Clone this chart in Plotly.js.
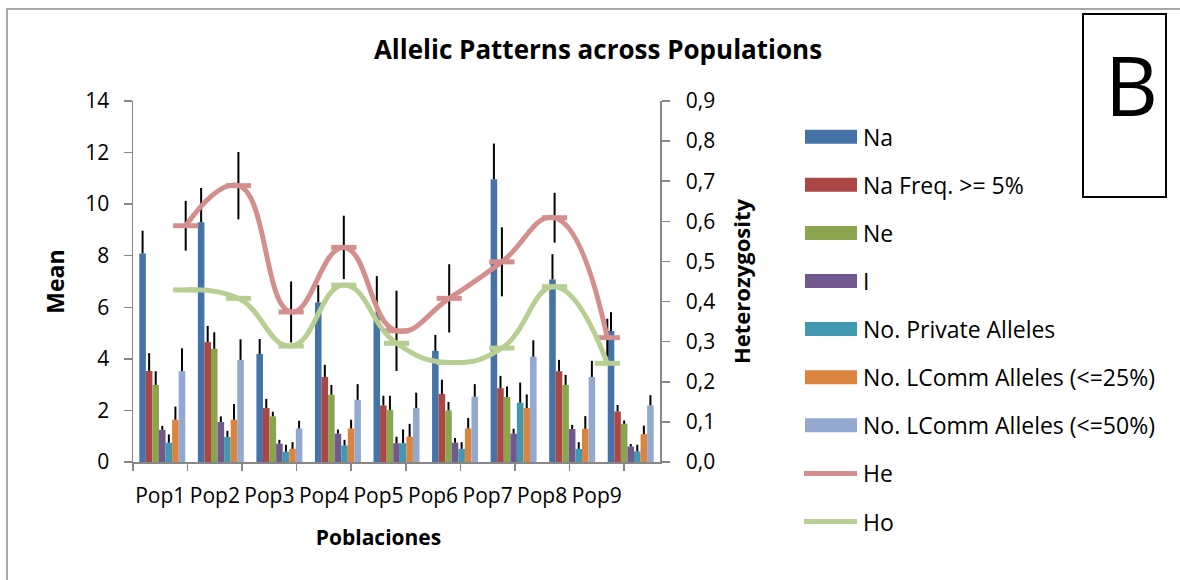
<!DOCTYPE html>
<html><head><meta charset="utf-8">
<script src="https://cdn.plot.ly/plotly-3.0.1.min.js"></script>
<style>html,body{margin:0;padding:0;background:#fff;}#chart{width:1180px;height:580px;}</style>
</head><body><div id="chart"></div>
<script>
const pops = ['Pop1','Pop2','Pop3','Pop4','Pop5','Pop6','Pop7','Pop8','Pop9'];
const na        = [8.09, 9.30, 4.19, 6.19, 5.77, 4.31, 10.97, 7.08, 5.08];
const naErr     = [0.88, 1.33, 0.58, 0.67, 1.44, 0.62, 1.38, 0.98, 0.73];
const naFreq    = [3.53, 4.65, 2.09, 3.30, 2.19, 2.64, 2.86, 3.52, 1.96];
const naFreqErr = [0.69, 0.63, 0.36, 0.47, 0.38, 0.55, 0.48, 0.44, 0.25];
const ne        = [2.99, 4.39, 1.77, 2.61, 2.02, 2.00, 2.52, 2.99, 1.48];
const neErr     = [0.53, 0.64, 0.18, 0.38, 0.55, 0.33, 0.41, 0.39, 0.13];
const iIdx      = [1.25, 1.55, 0.71, 1.10, 0.73, 0.75, 1.10, 1.28, 0.60];
const iErr      = [0.15, 0.22, 0.15, 0.16, 0.25, 0.18, 0.19, 0.16, 0.10];
const priv      = [0.75, 0.97, 0.40, 0.64, 0.73, 0.51, 2.30, 0.51, 0.41];
const privErr   = [0.32, 0.24, 0.27, 0.22, 0.53, 0.26, 0.78, 0.26, 0.26];
const lc25      = [1.64, 1.64, 0.51, 1.30, 0.98, 1.30, 2.09, 1.29, 1.08];
const lc25Err   = [0.51, 0.61, 0.26, 0.34, 0.50, 0.41, 0.53, 0.49, 0.33];
const lc50      = [3.53, 3.96, 1.30, 2.41, 2.09, 2.53, 4.08, 3.30, 2.19];
const lc50Err   = [0.88, 0.80, 0.30, 0.61, 0.60, 0.49, 0.64, 0.62, 0.40];
const he        = [0.589, 0.689, 0.374, 0.535, 0.327, 0.408, 0.499, 0.609, 0.310];
const heErr     = [0.062, 0.084, 0.076, 0.079, 0.100, 0.085, 0.086, 0.062, 0.047];
const ho        = [0.429, 0.408, 0.289, 0.441, 0.296, 0.248, 0.284, 0.437, 0.246];

const barNames = ['Na','Na Freq. >= 5%','Ne','I','No. Private Alleles','No. LComm Alleles (<=25%)','No. LComm Alleles (<=50%)'];
const barVals = [na, naFreq, ne, iIdx, priv, lc25, lc50];
const barErrs = [naErr, naFreqErr, neErr, iErr, privErr, lc25Err, lc50Err];
const barColors = ['#4572A7','#AA4643','#89A54E','#71588F','#4198AF','#DB843D','#93A9CF'];
const lineNames = ['He','Ho'];
const lineColors = ['#D48F8D','#B7CF93'];

const FONT = '"Open Sans", Lato, sans-serif';
const AX = '#878787';
const FS = 21;

const traces = [];
barNames.forEach((n, k) => {
  traces.push({
    type: 'bar', name: n, x: pops, y: barVals[k], xaxis: 'x', yaxis: 'y',
    marker: {color: barColors[k], line: {width: 0}},
    error_y: {type: 'data', symmetric: false, array: barErrs[k],
              arrayminus: barErrs[k].map(() => 0), color: '#000', thickness: 2, width: 0},
    showlegend: false, hoverinfo: 'skip'
  });
});
traces.push({
  type: 'scatter', mode: 'lines+markers', name: 'He', x: pops, y: he, xaxis: 'x2', yaxis: 'y2',
  line: {color: lineColors[0], width: 5, shape: 'spline', smoothing: 1.3},
  marker: {symbol: 'line-ew', size: 18, line: {color: lineColors[0], width: 5}},
  error_y: {type: 'data', array: heErr, color: '#000', thickness: 2, width: 0},
  showlegend: false, hoverinfo: 'skip'
});
traces.push({
  type: 'scatter', mode: 'lines+markers', name: 'Ho', x: pops, y: ho, xaxis: 'x2', yaxis: 'y2',
  line: {color: lineColors[1], width: 5, shape: 'spline', smoothing: 1.3},
  marker: {symbol: 'line-ew', size: 18, line: {color: lineColors[1], width: 5}},
  showlegend: false, hoverinfo: 'skip'
});
// carrier of the category labels along the bottom
traces.push({
  type: 'scatter', mode: 'markers', x: pops, y: pops.map(() => null), xaxis: 'x3', yaxis: 'y',
  showlegend: false, hoverinfo: 'skip', marker: {opacity: 0}
});

// geometry (pixels)
const W = 1180, H = 580, L = 133, R = 660, T = 101, B = 462;
const pw = R - L, ph = B - T;
const px = v => (v - L) / pw;
const py = v => (B - v) / ph;

const shapes = [
  {type: 'rect', xref: 'paper', yref: 'paper', x0: px(7), x1: px(1200), y0: py(9), y1: py(600),
   line: {color: '#8c8c8c', width: 1.5}},
  {type: 'rect', xref: 'paper', yref: 'paper', x0: px(1083), x1: px(1166), y0: py(14), y1: py(197),
   line: {color: '#000', width: 2}}
];
const annotations = [
  {xref: 'paper', yref: 'paper', x: px(1131), y: py(84), text: 'B', showarrow: false,
   font: {family: FONT, size: 82, color: '#000'}, xanchor: 'center', yanchor: 'middle'}
];
// legend (manual)
const legNames = barNames.concat(lineNames);
legNames.forEach((n, k) => {
  const cy = 136.7 + k * 48.1;
  if (k < barNames.length) {
    shapes.push({type: 'rect', xref: 'paper', yref: 'paper', x0: px(805), x1: px(857),
      y0: py(cy - 7), y1: py(cy + 7), fillcolor: barColors[k], line: {width: 0}});
  } else {
    shapes.push({type: 'line', xref: 'paper', yref: 'paper', x0: px(804), x1: px(857),
      y0: py(cy), y1: py(cy), line: {color: lineColors[k - barNames.length], width: 5}});
  }
  annotations.push({xref: 'paper', yref: 'paper', x: px(861), y: py(cy), text: n.replace(/</g,'&lt;'),
    showarrow: false, xanchor: 'left', yanchor: 'middle', font: {family: FONT, size: 23, color: '#000'}});
});

const layout = {
  width: W, height: H,
  margin: {l: L, r: W - R, t: T, b: H - B, pad: 0},
  paper_bgcolor: '#fff', plot_bgcolor: 'rgba(0,0,0,0)',
  separators: ',.',
  font: {family: FONT, size: FS, color: '#000'},
  title: {text: '<b>Allelic Patterns across Populations</b>', x: 598 / W, xanchor: 'center',
          y: 1 - 50 / H, yanchor: 'middle', font: {family: FONT, size: 26, color: '#000'}},
  barmode: 'group', bargap: 0.215, bargroupgap: 0,
  xaxis: {type: 'category', range: [-0.5, 8.5], domain: [0, 1], showticklabels: false, ticks: '',
          showline: true, linecolor: AX, linewidth: 1.5, showgrid: false, zeroline: false, fixedrange: true},
  xaxis2: {type: 'category', overlaying: 'x', anchor: 'y2', range: [-1, 9], visible: false, fixedrange: true},
  xaxis3: {type: 'category', anchor: 'y', domain: [0, (624 - L) / pw], range: [-0.5, 8.5],
           tickson: 'boundaries', ticks: 'outside', ticklen: 8, tickcolor: AX, tickwidth: 1.5, tickangle: 0,
           showline: false, showgrid: false, zeroline: false, ticklabelstandoff: 19,
           tickfont: {family: FONT, size: FS, color: '#000'},
           title: {text: '<b>Poblaciones</b>', standoff: 22, font: {family: FONT, size: FS, color: '#000'}}},
  yaxis: {range: [0, 14], dtick: 2, tick0: 0, ticks: 'outside', ticklen: 8, tickcolor: AX, tickwidth: 1.5,
          showline: true, linecolor: AX, linewidth: 1.5, showgrid: false, zeroline: false,
          ticklabelstandoff: 10, tickfont: {family: FONT, size: FS, color: '#000'},
          title: {text: '<b>Mean</b>', standoff: 14, font: {family: FONT, size: 23, color: '#000'}}},
  yaxis2: {overlaying: 'y', side: 'right', anchor: 'x', range: [0, 0.9], dtick: 0.1, tick0: 0, tickformat: '.1f',
           ticks: 'outside', ticklen: 8, tickcolor: AX, tickwidth: 1.5,
           showline: true, linecolor: AX, linewidth: 1.5, showgrid: false, zeroline: false,
           ticklabelstandoff: 12, tickfont: {family: FONT, size: FS, color: '#000'},
           title: {text: '<b>Heterozygosity</b>', standoff: 20, font: {family: FONT, size: 22, color: '#000'}}},
  shapes: shapes, annotations: annotations, showlegend: false
};
Plotly.newPlot('chart', traces, layout, {staticPlot: true, displayModeBar: false});
</script></body></html>
